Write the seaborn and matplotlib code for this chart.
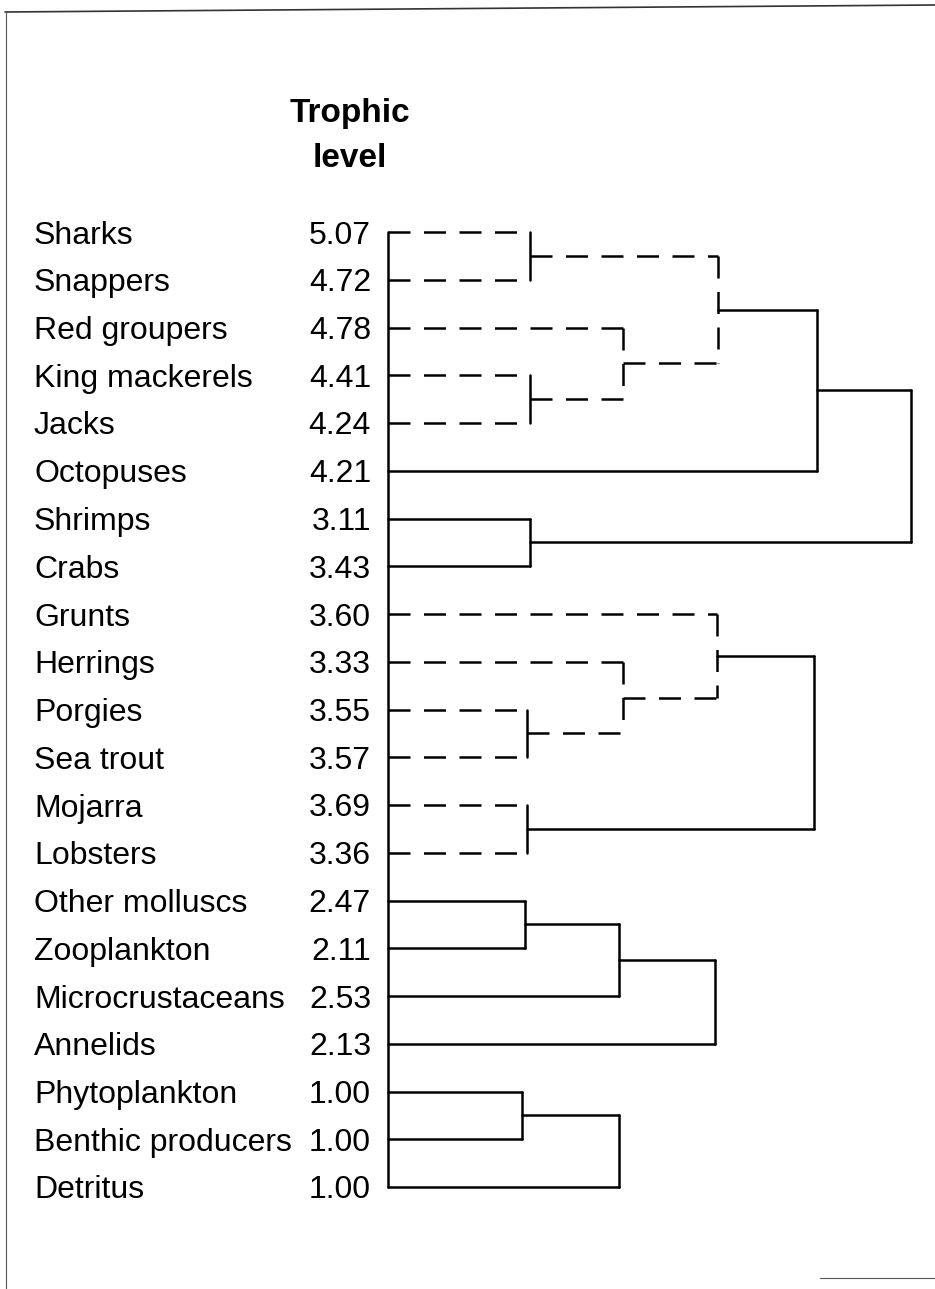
import numpy as np
import pandas as pd
import matplotlib
matplotlib.use("Agg")
import matplotlib.pyplot as plt
from matplotlib.lines import Line2D
import seaborn as sns

# ---------------- data ----------------
groups = ["Sharks", "Snappers", "Red groupers", "King mackerels", "Jacks",
          "Octopuses", "Shrimps", "Crabs", "Grunts", "Herrings", "Porgies",
          "Sea trout", "Mojarra", "Lobsters", "Other molluscs", "Zooplankton",
          "Microcrustaceans", "Annelids", "Phytoplankton", "Benthic producers",
          "Detritus"]
trophic = ["5.07", "4.72", "4.78", "4.41", "4.24", "4.21", "3.11", "3.43",
           "3.60", "3.33", "3.55", "3.57", "3.69", "3.36", "2.47", "2.11",
           "2.53", "2.13", "1.00", "1.00", "1.00"]

# merges: children ids (0..20 leaves, 21+ clusters in merge order), height, style
merge_left = [0, 3, 2, 21, 24, 6, 25, 10, 9, 8, 12, 30, 14, 33, 34, 18, 36]
merge_right = [1, 4, 22, 23, 5, 7, 26, 11, 28, 29, 13, 31, 15, 16, 17, 19, 20]
merge_height = [1.49, 1.49, 2.47, 3.47, 4.52, 1.49, 5.51, 1.46, 2.47, 3.46,
                1.46, 4.48, 1.44, 2.43, 3.44, 1.41, 2.43]
merge_style = ["dashed", "dashed", "dashed", "dashed", "solid", "solid",
               "solid", "dashed", "dashed", "dashed", "dashed", "solid",
               "solid", "solid", "solid", "solid", "solid"]

# ---------------- build segments ----------------
n = len(groups)
pos_y = {i: float(i) for i in range(n)}
pos_h = {i: 0.0 for i in range(n)}
rows = []
seg = 0


def add(x0, y0, x1, y1, style):
    global seg
    rows.append(dict(x=x0, y=y0, seg=seg, style=style))
    rows.append(dict(x=x1, y=y1, seg=seg, style=style))
    seg += 1


# baseline vertical
add(0.0, pos_y[0], 0.0, pos_y[n - 1], "solid")

for k, (a, b, h, st) in enumerate(zip(merge_left, merge_right,
                                      merge_height, merge_style)):
    cid = n + k
    ya, yb = pos_y[a], pos_y[b]
    add(pos_h[a], ya, h, ya, st)
    add(pos_h[b], yb, h, yb, st)
    vst = "solid" if (st == "dashed" and a < n and b < n) else st
    add(h, ya, h, yb, vst)
    pos_y[cid] = (ya + yb) / 2
    pos_h[cid] = h

df = pd.DataFrame(rows)

# ---------------- plot ----------------
sns.set_theme(style="white")
plt.rcParams["font.family"] = ["Liberation Sans", "DejaVu Sans"]

W, H = 935, 1289
fig = plt.figure(figsize=(W / 100, H / 100), dpi=100)
ax = fig.add_axes([0, 0, 1, 1])

x0px, unit = 388.0, 95.0
y0px, step = 232.0, 47.75
ax.set_xlim(-x0px / unit, (W - x0px) / unit)
ax.set_ylim((H - y0px) / step, -y0px / step)
ax.axis("off")

sns.lineplot(data=df, x="x", y="y", units="seg", estimator=None, sort=False,
             style="style", dashes={"solid": "", "dashed": (8.8, 5.4)},
             color="black", linewidth=1.8, legend=False, ax=ax)

lab_x = (34 - x0px) / unit
num_x = (371 - x0px) / unit
for i, (g, t) in enumerate(zip(groups, trophic)):
    ax.text(lab_x, i, g, ha="left", va="center_baseline", fontsize=23,
            color="black")
    ax.text(num_x, i, t, ha="right", va="center_baseline", fontsize=23,
            color="black")

tx = (350 - x0px) / unit
ax.text(tx, (110 - y0px) / step, "Trophic", ha="center", va="center_baseline",
        fontsize=24, fontweight="bold", color="black")
ax.text(tx, (155 - y0px) / step, "level", ha="center", va="center_baseline",
        fontsize=24, fontweight="bold", color="black")

# scanned page border
fig.add_artist(Line2D([5 / W, 1.0], [1 - 12 / H, 1 - 5 / H],
                      transform=fig.transFigure, color="#333333", lw=1.2))
fig.add_artist(Line2D([6 / W, 6 / W], [1 - 12 / H, 0.0],
                      transform=fig.transFigure, color="#555555", lw=0.8))
fig.add_artist(Line2D([820 / W, 1.0], [1 - 1278 / H, 1 - 1278 / H],
                      transform=fig.transFigure, color="#555555", lw=0.8))

fig.savefig("out.png", dpi=100, facecolor="white")
